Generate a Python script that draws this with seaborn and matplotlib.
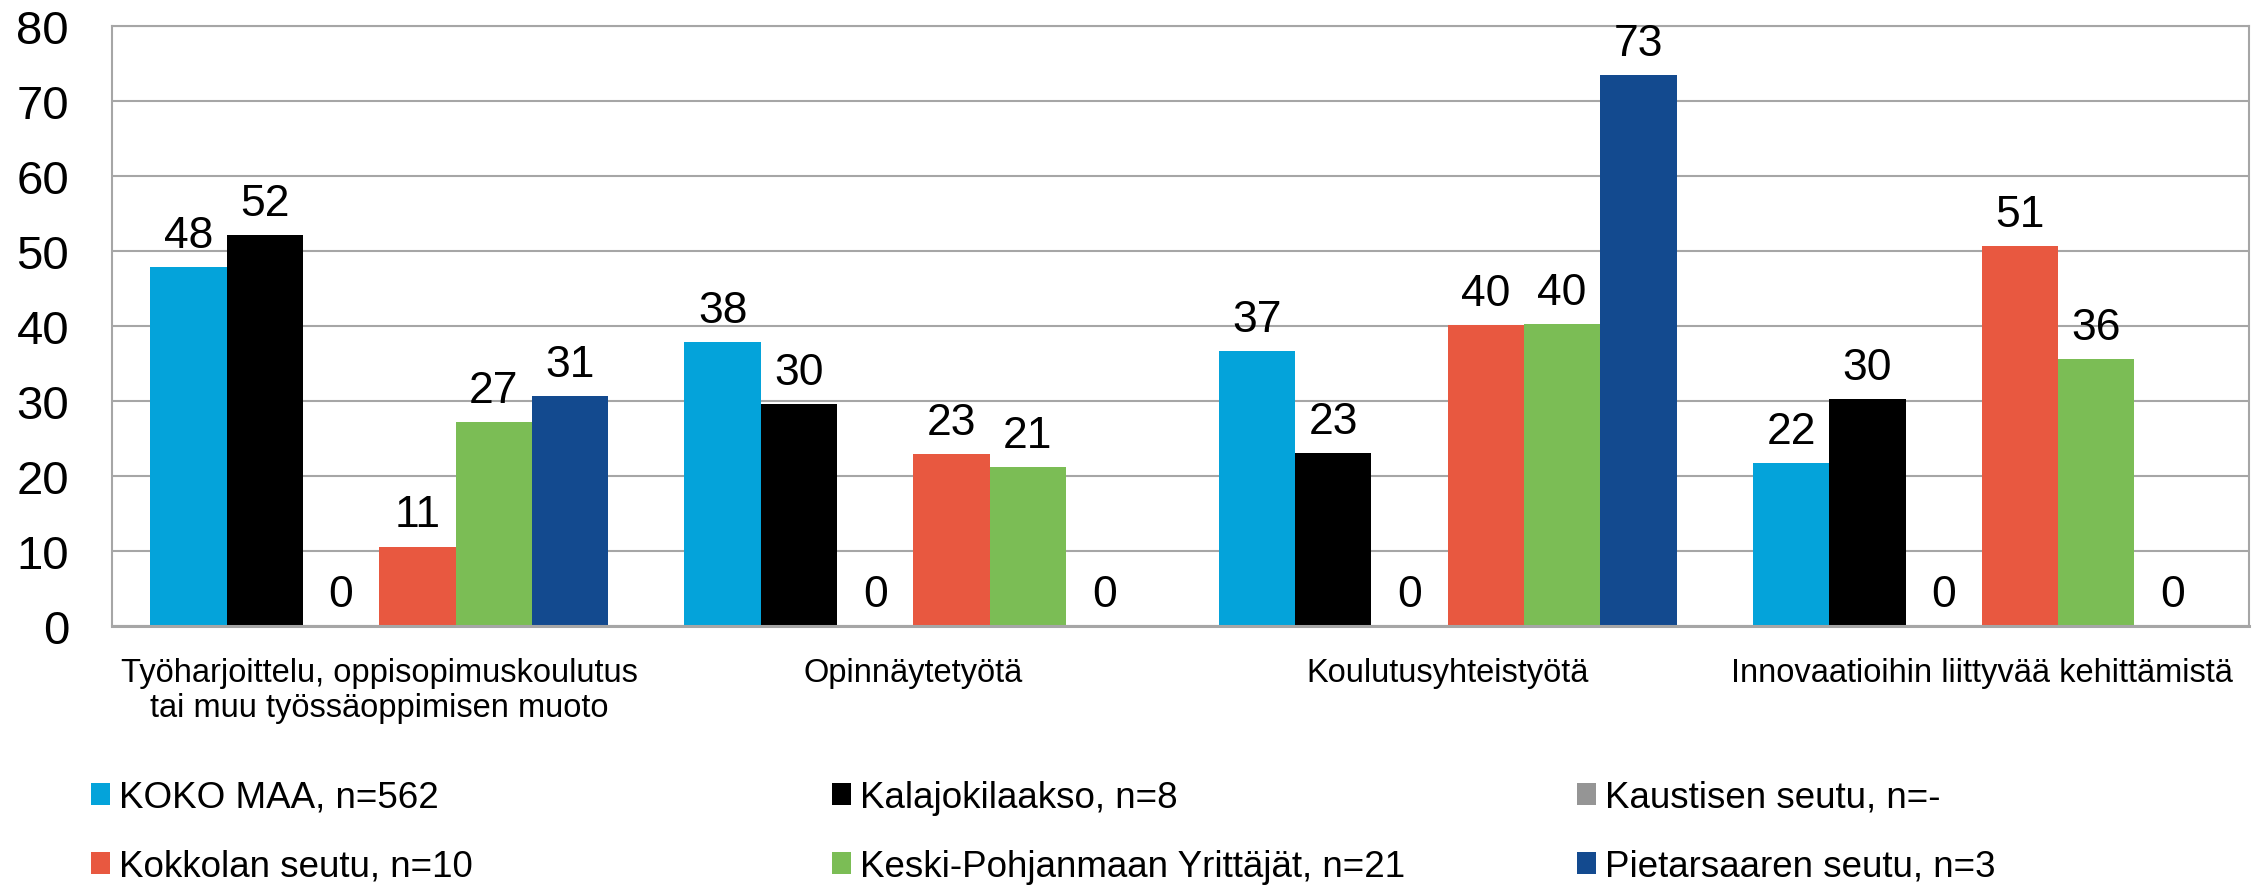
import matplotlib
matplotlib.use("Agg")
import matplotlib.pyplot as plt
import pandas as pd
import seaborn as sns

categories = [
    "Työharjoittelu, oppisopimuskoulutus\ntai muu työssäoppimisen muoto",
    "Opinnäytetyötä",
    "Koulutusyhteistyötä",
    "Innovaatioihin liittyvää kehittämistä",
]
series = [
    "KOKO MAA, n=562",
    "Kalajokilaakso, n=8",
    "Kaustisen seutu, n=-",
    "Kokkolan seutu, n=10",
    "Keski-Pohjanmaan Yrittäjät, n=21",
    "Pietarsaaren seutu, n=3",
]
koko_maa = [47.8, 37.9, 36.6, 21.7]
kalajokilaakso = [52.1, 29.6, 23.1, 30.3]
kaustinen = [0, 0, 0, 0]
kokkola = [10.6, 22.9, 40.1, 50.6]
keski_pohjanmaa = [27.2, 21.2, 40.3, 35.6]
pietarsaari = [30.7, 0, 73.4, 0]
colors = ["#04A3DA", "#000000", "#959595", "#E85840", "#7BBD55", "#134A8F"]
yticks = [0, 10, 20, 30, 40, 50, 60, 70, 80]

# long format for seaborn
values = [koko_maa, kalajokilaakso, kaustinen, kokkola, keski_pohjanmaa, pietarsaari]
rows = []
for name, vals in zip(series, values):
    for cat, v in zip(categories, vals):
        rows.append({"kategoria": cat, "alue": name, "osuus": v})
df = pd.DataFrame(rows)

sns.set_style("whitegrid", {
    "grid.color": "#A6A6A6", "axes.edgecolor": "#A6A6A6",
    "text.color": "black", "xtick.color": "black", "ytick.color": "black",
})
plt.rcParams["font.family"] = ["Liberation Sans", "DejaVu Sans"]

fig, ax = plt.subplots(figsize=(22.6, 8.87), dpi=100)
fig.subplots_adjust(left=0.0496, right=0.9951, top=0.9696, bottom=0.2931)

sns.barplot(
    data=df, x="kategoria", y="osuus", hue="alue",
    order=categories, hue_order=series, palette=colors,
    width=6 / 7, saturation=1, linewidth=0, ax=ax,
)

for container in ax.containers:
    ax.bar_label(container, fmt="%.0f", padding=8, fontsize=32, color="black")

ax.set_ylim(0, 80)
ax.set_xlim(-0.5, 3.5)
ax.set_yticks(yticks)
ax.set_xlabel("")
ax.set_ylabel("")
ax.grid(axis="y", color="#A6A6A6", linewidth=1.5)
ax.grid(axis="x", visible=False)
ax.set_axisbelow(True)
ax.tick_params(axis="y", length=0, pad=31, labelsize=34, labelcolor="black")
ax.tick_params(axis="x", length=0, pad=22, labelsize=23.5, labelcolor="black")
for s in ax.spines.values():
    s.set_color("#A6A6A6")
    s.set_linewidth(1.5)
ax.spines["bottom"].set_linewidth(2.2)

# legend: three columns with fixed positions like the original
handles, labels = ax.get_legend_handles_labels()
ax.get_legend().remove()
col_x = [91 / 2260, 832 / 2260, 1577 / 2260]
for j, x in enumerate(col_x):
    leg = fig.legend(
        [handles[j], handles[j + 3]], [labels[j], labels[j + 3]],
        loc="upper left", bbox_to_anchor=(x, 1 - 781 / 887),
        bbox_transform=fig.transFigure, frameon=False, fontsize=26.5,
        handlelength=0.52, handleheight=0.52, handletextpad=0.25,
        labelspacing=0.92, borderpad=0, borderaxespad=0,
        labelcolor="black",
    )

fig.savefig("out.png", dpi=100)
